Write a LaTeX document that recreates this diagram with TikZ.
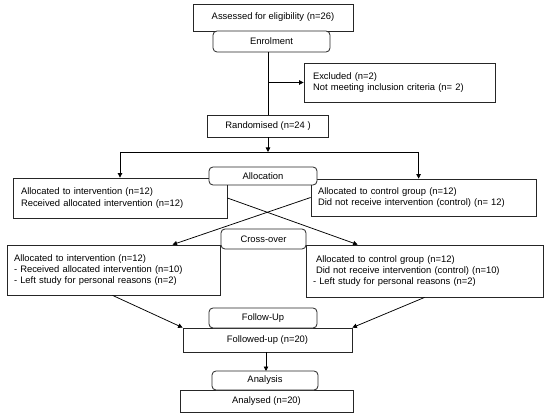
\documentclass[tikz,border=0pt]{standalone}
\usepackage{fontspec}
\setmainfont{Liberation Sans}
\usetikzlibrary{arrows.meta,calc}
\tikzset{
  box/.style={draw=black!85, line width=0.8pt, fill=white, inner ysep=0pt, font=\fontsize{9.4}{11.2}\selectfont},
  lbox/.style={box, align=left, inner xsep=#1},
  rbox/.style={draw=black!85, line width=0.8pt, fill=white, rounded corners=4pt, inner sep=0pt, font=\fontsize{9.4}{11.2}\selectfont},
  conn/.style={line width=0.75pt, black},
  arr/.style={conn, -{Triangle[length=4.5pt,width=4.5pt]}}
}
\begin{document}
\begin{tikzpicture}[x=1pt,y=-1pt]
\useasboundingbox (0,0) rectangle (550,420);
\fill[white] (0,0) rectangle (550,420);

% top part
\node[box, minimum width=160pt, minimum height=27pt] (assess) at (273,17.5) {Assessed for eligibility (n=26)};
\node[box, minimum width=191pt, minimum height=39pt, text width=173pt, lbox=9pt] (excl) at (399.5,82.5) {Excluded (n=2)\\Not meeting inclusion criteria (n= 2)};
\node[box, minimum width=121pt, minimum height=22pt] (rand) at (268,126) {Randomised (n=24 )};
\node[rbox, minimum width=117pt, minimum height=21pt] (enrol) at (271.5,41.5) {Enrolment};

\coordinate (split) at (rand.north |- excl.west);
\draw[conn] (enrol.south -| rand.north) -- (rand.north);
\draw[arr] (split) -- (excl.west);

% allocation
\coordinate (hs) at (268,152);
\node[box, minimum width=214pt, minimum height=40pt, text width=198pt, lbox=8pt] (left1) at (120,198) {Allocated to intervention (n=12)\\Received allocated intervention (n=12)};
\node[box, minimum width=225pt, minimum height=37pt, text width=211pt, lbox=7pt] (right1) at (423.5,197.5) {Allocated to control group (n=12)\\Did not receive intervention (control) (n= 12)};
\coordinate (hl) at (left1.north |- hs);
\coordinate (rt) at ($(right1.north west)+(108,0)$);
\coordinate (hr) at (rt |- hs);
\draw[arr] (rand.south) -- (hs);
\draw[conn] (hl) -- (hr);
\draw[arr] (hl) -- (left1.north);
\draw[arr] (hr) -- (rt);
\node[rbox, minimum width=108pt, minimum height=18pt] (alloc) at (263,176) {Allocation};

% cross-over
\node[box, minimum width=213pt, minimum height=50pt, text width=199pt, lbox=7pt] (cl) at (113.5,270) {Allocated to intervention (n=12)\\- Received allocated intervention (n=10)\\- Left study for personal reasons (n=2)};
\node[box, minimum width=237pt, minimum height=52pt, text width=223pt, lbox=7pt] (cr) at (424.5,271) {\hspace{3pt}Allocated to control group (n=12)\\\hspace{3pt}Did not receive intervention (control) (n=10)\\- Left study for personal reasons (n=2)};
\draw[arr] (left1.east) -- ($(cr.north west)+(52,0)$);
\draw[arr] (right1.west) -- ($(cl.north west)+(166,0)$);
\node[rbox, minimum width=85pt, minimum height=20pt] (cross) at (263.5,239) {Cross-over};

% follow-up
\node[box, minimum width=169pt, minimum height=24pt] (fol) at (267.5,340) {Followed-up (n=20)};
\node[rbox, minimum width=108pt, minimum height=20pt] (fu) at (263,318) {Follow-Up};
\draw[arr] ($(cl.south west)+(106,0)$) -- (fol.north west);
\draw[arr] ($(cr.south west)+(119,0)$) -- (fol.north east);

% analysis
\node[box, minimum width=173pt, minimum height=22pt] (anl) at (266.5,401) {Analysed (n=20)};
\draw[arr] (fol.south -| 266,0) -- (266,371);
\node[rbox, minimum width=106pt, minimum height=19pt] (ana) at (265,380.5) {Analysis};
\end{tikzpicture}
\end{document}
